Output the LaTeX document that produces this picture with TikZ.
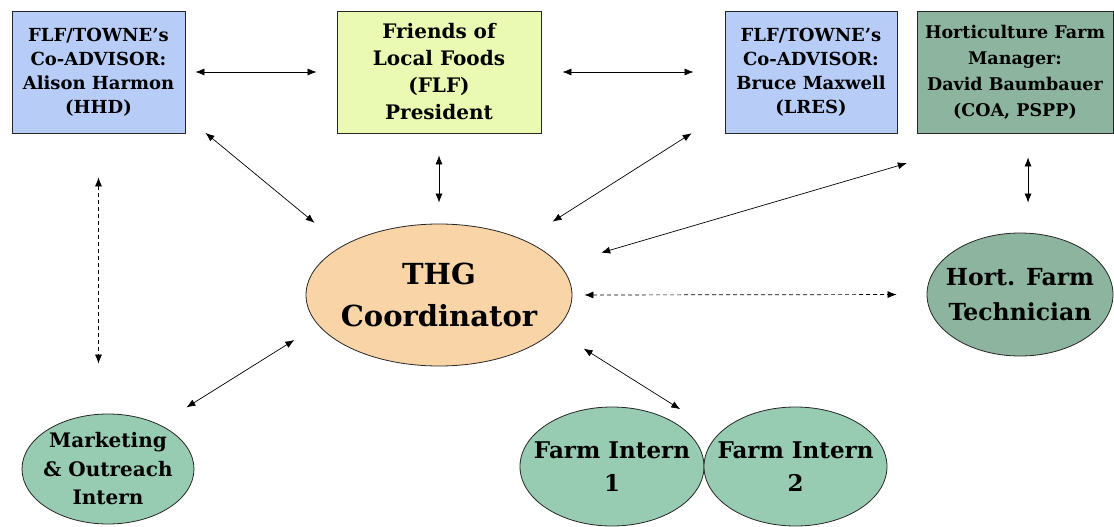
\documentclass[tikz,border=0pt]{standalone}
\usepackage{fontspec}
\setmainfont{DejaVu Serif}
\usepackage{tikz}
\usetikzlibrary{positioning, calc}
\usetikzlibrary{shapes.geometric, arrows.meta}
\definecolor{advblue}{RGB}{183,204,247}
\definecolor{flfgreen}{RGB}{234,250,178}
\definecolor{hortgreen}{RGB}{141,180,158}
\definecolor{interngreen}{RGB}{152,204,178}
\definecolor{thgpeach}{RGB}{248,212,166}
\tikzset{
    box/.style={draw=black!85, line width=0.8pt, align=center, inner sep=0pt, minimum height=122pt},
    blob/.style={ellipse, draw=black!85, line width=0.8pt, align=center, inner sep=-20pt},
    link/.style={{Latex[length=9pt,width=7pt]}-{Latex[length=9pt,width=7pt]}, line width=0.7pt},
    dlink/.style={link, dash pattern=on 4pt off 3pt},
}
\newcommand{\fsz}[2]{\fontsize{#1}{#2}\selectfont\bfseries}

\begin{document}
\begin{tikzpicture}[x=1pt, y=-1pt]
\useasboundingbox (0,0) rectangle (1114,527);
\node[box, fill=advblue, minimum width=173pt, font=\fsz{18}{24}] (alison) at (98.5,72) {FLF/TOWNE's\\Co-ADVISOR:\\Alison Harmon\\(HHD)};
\node[box, fill=flfgreen, minimum width=204pt, font=\fsz{20}{27}] (flf) at (439,72) {Friends of\\Local Foods\\(FLF)\\President};
\node[box, fill=advblue, minimum width=172pt, font=\fsz{18}{24}] (bruce) at (811,72) {FLF/TOWNE's\\Co-ADVISOR:\\Bruce Maxwell\\(LRES)};
\node[box, fill=hortgreen, minimum width=196pt, font=\fsz{17.5}{26}] (mgr) at (1015,72) {Horticulture Farm\\Manager:\\David Baumbauer\\(COA, PSPP)};
\node[blob, fill=thgpeach, minimum width=266pt, minimum height=142pt, font=\fsz{29}{42}] (thg) at (439,295) {THG\\Coordinator};
\node[blob, fill=hortgreen, minimum width=186pt, minimum height=123pt, font=\fsz{23.5}{35}] (tech) at (1020,294.5) {Hort. Farm\\Technician};
\node[blob, fill=interngreen, minimum width=172pt, minimum height=110pt, font=\fsz{20}{28.5}] (mkt) at (108,469) {Marketing\\\& Outreach\\Intern};
\node[blob, fill=interngreen, minimum width=184pt, minimum height=119pt, font=\fsz{23}{33}] (fi1) at (612,466.5) {Farm Intern\\1};
\node[blob, fill=interngreen, minimum width=183pt, minimum height=119pt, font=\fsz{23}{33}] (fi2) at (795.5,466.5) {Farm Intern\\2};
\draw[link, shorten <=10pt, shorten >=20pt] (alison.east) -- (flf.west);
\draw[link, shorten <=21pt, shorten >=31pt] (flf.east) -- (bruce.west);
\draw[link, shorten <=26pt, shorten >=36pt] (alison.-27.5) -- (thg.153);
\draw[link, shorten <=22pt, shorten >=21pt] (flf.south) -- (flf.south |- thg.north);
\draw[link, shorten <=39pt, shorten >=34pt] (bruce.205) -- (thg.33);
\draw[link, shorten <=106pt, shorten >=43pt] (mgr.-96) -- (thg.14);
\draw[link, shorten <=24pt, shorten >=30pt] (mgr.-78) -- (mgr.-78 |- tech.north);
\draw[dlink, shorten <=12pt, shorten >=30pt] (thg.east) -- (tech.west);
\draw[link, shorten <=34pt, shorten >=28pt] (thg.-17) -- ($(fi1.north east)!.5!(fi2.north west)$);
\draw[link, shorten <=28pt, shorten >=32pt] (thg.194) -- (mkt.41);
\draw[dlink, shorten <=44pt, shorten >=50pt] (alison.south) -- (alison.south |- mkt.north);
\end{tikzpicture}
\end{document}
